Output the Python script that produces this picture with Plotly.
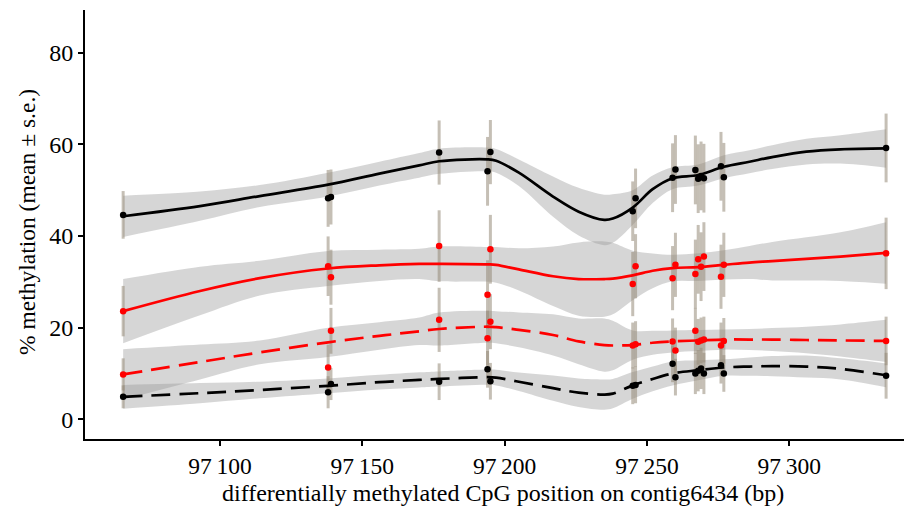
import plotly.graph_objects as go

# CpG positions (bp)
sites = [97066, 97138, 97139, 97177, 97194, 97195, 97245, 97246, 97259, 97260,
         97267, 97268, 97269, 97270, 97276, 97277, 97334]

# mean % methylation per series
a_mean = [44.6, 48.2, 48.5, 58.2, 54.1, 58.3, 45.4, 48.2, 52.7, 54.5,
          54.4, 52.5, 53.1, 52.6, 55.2, 52.8, 59.2]
b_mean = [23.6, 33.4, 31.0, 37.8, 27.2, 37.1, 29.5, 33.4, 30.8, 33.7,
          31.7, 34.9, 33.3, 35.5, 31.1, 33.7, 36.2]
c_mean = [9.8, 11.3, 19.3, 21.7, 17.7, 21.3, 16.1, 16.4, 17.0, 15.0,
          19.3, 16.9, 17.2, 17.4, 16.1, 17.1, 17.1]
d_mean = [4.9, 5.9, 7.7, 8.2, 10.9, 8.3, 7.3, 7.5, 12.1, 9.2,
          10.0, 10.6, 11.1, 10.0, 11.8, 10.0, 9.5]

# standard errors
a_se = [5.2, 6.2, 6.0, 7.0, 7.5, 7.0, 6.5, 6.5, 7.5, 7.5, 7.5, 7.5, 7.5, 7.5, 7.5, 7.5, 7.5]
b_se = [5.5, 6.5, 6.0, 7.8, 7.5, 7.5, 7.0, 7.0, 7.0, 7.0, 7.5, 7.5, 7.5, 7.5, 7.0, 7.0, 7.8]
c_se = [3.5, 5.0, 5.0, 7.0, 6.0, 6.0, 5.0, 5.0, 5.0, 5.0, 5.0, 5.0, 5.0, 5.0, 5.0, 5.0, 5.3]
d_se = [2.5, 3.5, 3.5, 4.0, 4.0, 4.0, 4.0, 4.0, 4.0, 4.0, 4.5, 4.5, 4.5, 4.5, 4.0, 4.0, 5.0]

# smoothed fits
fit_x = [97066, 97093, 97114, 97138, 97156, 97170, 97177, 97194, 97197, 97205, 97217, 97226,
         97235, 97238, 97245, 97252, 97259, 97268, 97277, 97286, 97294, 97306, 97318, 97334]
a_fit = [44.3, 46.5, 48.7, 51.2, 53.6, 55.4, 56.3, 56.7, 56.4, 53.8, 48.6, 45.3,
         43.5, 43.8, 46.2, 50.2, 52.6, 53.3, 55.1, 56.2, 57.2, 58.4, 58.9, 59.1]
a_hw = [4.5, 3.2, 2.4, 2.6, 2.6, 2.7, 2.75, 2.6, 2.6, 2.9, 4.4, 5.2,
        5.5, 5.3, 3.8, 3.0, 2.4, 2.3, 2.5, 2.5, 2.6, 2.8, 3.1, 4.2]
b_fit = [23.6, 28.0, 30.8, 32.9, 33.6, 33.9, 33.9, 33.8, 33.7, 32.7, 31.2, 30.6,
         30.6, 30.7, 31.4, 32.4, 33.0, 33.2, 33.7, 34.2, 34.5, 35.0, 35.5, 36.3]
b_hw = [7.0, 5.3, 3.8, 3.8, 3.4, 3.3, 3.8, 3.8, 3.9, 4.6, 6.5, 8.0,
        8.2, 7.8, 5.4, 3.8, 2.9, 3.0, 3.2, 3.6, 4.2, 4.7, 5.3, 6.7]
c_fit = [9.8, 12.5, 14.6, 16.8, 18.2, 19.2, 19.7, 20.2, 20.1, 19.5, 18.4, 17.0,
         16.2, 16.1, 16.2, 16.7, 17.0, 17.2, 17.4, 17.4, 17.4, 17.3, 17.2, 17.1]
c_hw = [5.5, 3.8, 2.6, 3.2, 3.0, 3.0, 3.6, 3.5, 3.5, 3.8, 4.5, 5.0,
        5.8, 5.4, 3.2, 2.6, 2.4, 2.3, 2.2, 2.3, 2.5, 2.9, 3.5, 4.6]
d_fit = [4.9, 5.7, 6.4, 7.3, 8.1, 8.6, 8.8, 9.2, 9.1, 8.2, 6.8, 5.8,
         5.4, 5.6, 7.4, 8.8, 10.0, 10.7, 11.3, 11.5, 11.6, 11.5, 11.0, 9.6]
d_hw = [2.6, 2.2, 1.8, 1.6, 1.6, 1.65, 1.65, 1.65, 1.7, 2.0, 2.75, 3.1,
        3.3, 3.2, 2.9, 2.7, 2.6, 2.2, 1.8, 2.0, 2.2, 2.4, 2.3, 2.6]

x_ticks = [97100, 97150, 97200, 97250, 97300]
x_ticktext = ["97\u2009100", "97\u2009150", "97\u2009200", "97\u2009250", "97\u2009300"]
y_ticks = [0, 20, 40, 60, 80]

series = [
    (a_mean, a_se, a_fit, a_hw, "black", "solid"),
    (b_mean, b_se, b_fit, b_hw, "#ff0000", "solid"),
    (c_mean, c_se, c_fit, c_hw, "#ff0000", "19px,9px"),
    (d_mean, d_se, d_fit, d_hw, "black", "19px,9px"),
]

FONT = "Liberation Serif, Times New Roman, serif"
fig = go.Figure()

# ribbons
for mean, se, fit, hw, col, dash in series:
    lo = [f - h for f, h in zip(fit, hw)]
    hi = [f + h for f, h in zip(fit, hw)]
    fig.add_trace(go.Scatter(x=fit_x, y=lo, mode="lines", line=dict(width=0, shape="spline"),
                             hoverinfo="skip", showlegend=False))
    fig.add_trace(go.Scatter(x=fit_x, y=hi, mode="lines", line=dict(width=0, shape="spline"),
                             fill="tonexty", fillcolor="rgba(153,153,153,0.4)",
                             hoverinfo="skip", showlegend=False))

# error bars
for mean, se, fit, hw, col, dash in series:
    fig.add_trace(go.Scatter(x=sites, y=mean, mode="markers",
                             marker=dict(size=1, color="rgba(0,0,0,0)"),
                             error_y=dict(type="data", array=se, color="rgba(150,138,120,0.55)",
                                          thickness=3, width=0),
                             showlegend=False))

# fitted lines
for mean, se, fit, hw, col, dash in series:
    fig.add_trace(go.Scatter(x=fit_x, y=fit, mode="lines",
                             line=dict(color=col, width=2.7, dash=dash, shape="spline", smoothing=1),
                             showlegend=False))

# points
for mean, se, fit, hw, col, dash in series:
    fig.add_trace(go.Scatter(x=sites, y=mean, mode="markers",
                             marker=dict(color=col, size=6.5), showlegend=False))

# page body has an 8px margin: figure is 904x498 so it fills the 912x506 window
fig.update_layout(
    width=904, height=498,
    margin=dict(l=77, r=0, t=2, b=67),
    plot_bgcolor="white", paper_bgcolor="white",
    font=dict(family=FONT, color="black", size=24),
    xaxis=dict(range=[97052.6, 97343.1], tickvals=x_ticks, ticktext=x_ticktext,
               showline=True, linecolor="black", linewidth=2, ticks="outside",
               ticklen=5, tickwidth=1.5, tickcolor="black", showgrid=False, zeroline=False,
               tickfont=dict(family=FONT, size=23.5, color="black")),
    yaxis=dict(range=[-4.3, 89.3], tickvals=y_ticks,
               showline=True, linecolor="black", linewidth=2, ticks="outside",
               ticklen=5, tickwidth=1.5, tickcolor="black", showgrid=False, zeroline=False,
               tickfont=dict(family=FONT, size=24, color="black")),
    annotations=[
        dict(text="differentially methylated CpG position on contig6434 (bp)",
             xref="paper", yref="paper", x=(503 - 85) / 827, y=-(492.5 - 439) / 429,
             xanchor="center", yanchor="middle", showarrow=False,
             font=dict(family=FONT, size=24, color="black")),
        dict(text="% methylation (mean ± s.e.)",
             xref="paper", yref="paper", x=-(85 - 27) / 827, y=(439 - 222) / 429,
             xanchor="center", yanchor="middle", showarrow=False, textangle=-90,
             font=dict(family=FONT, size=23.5, color="black")),
    ],
)

fig.write_html("out.html")
